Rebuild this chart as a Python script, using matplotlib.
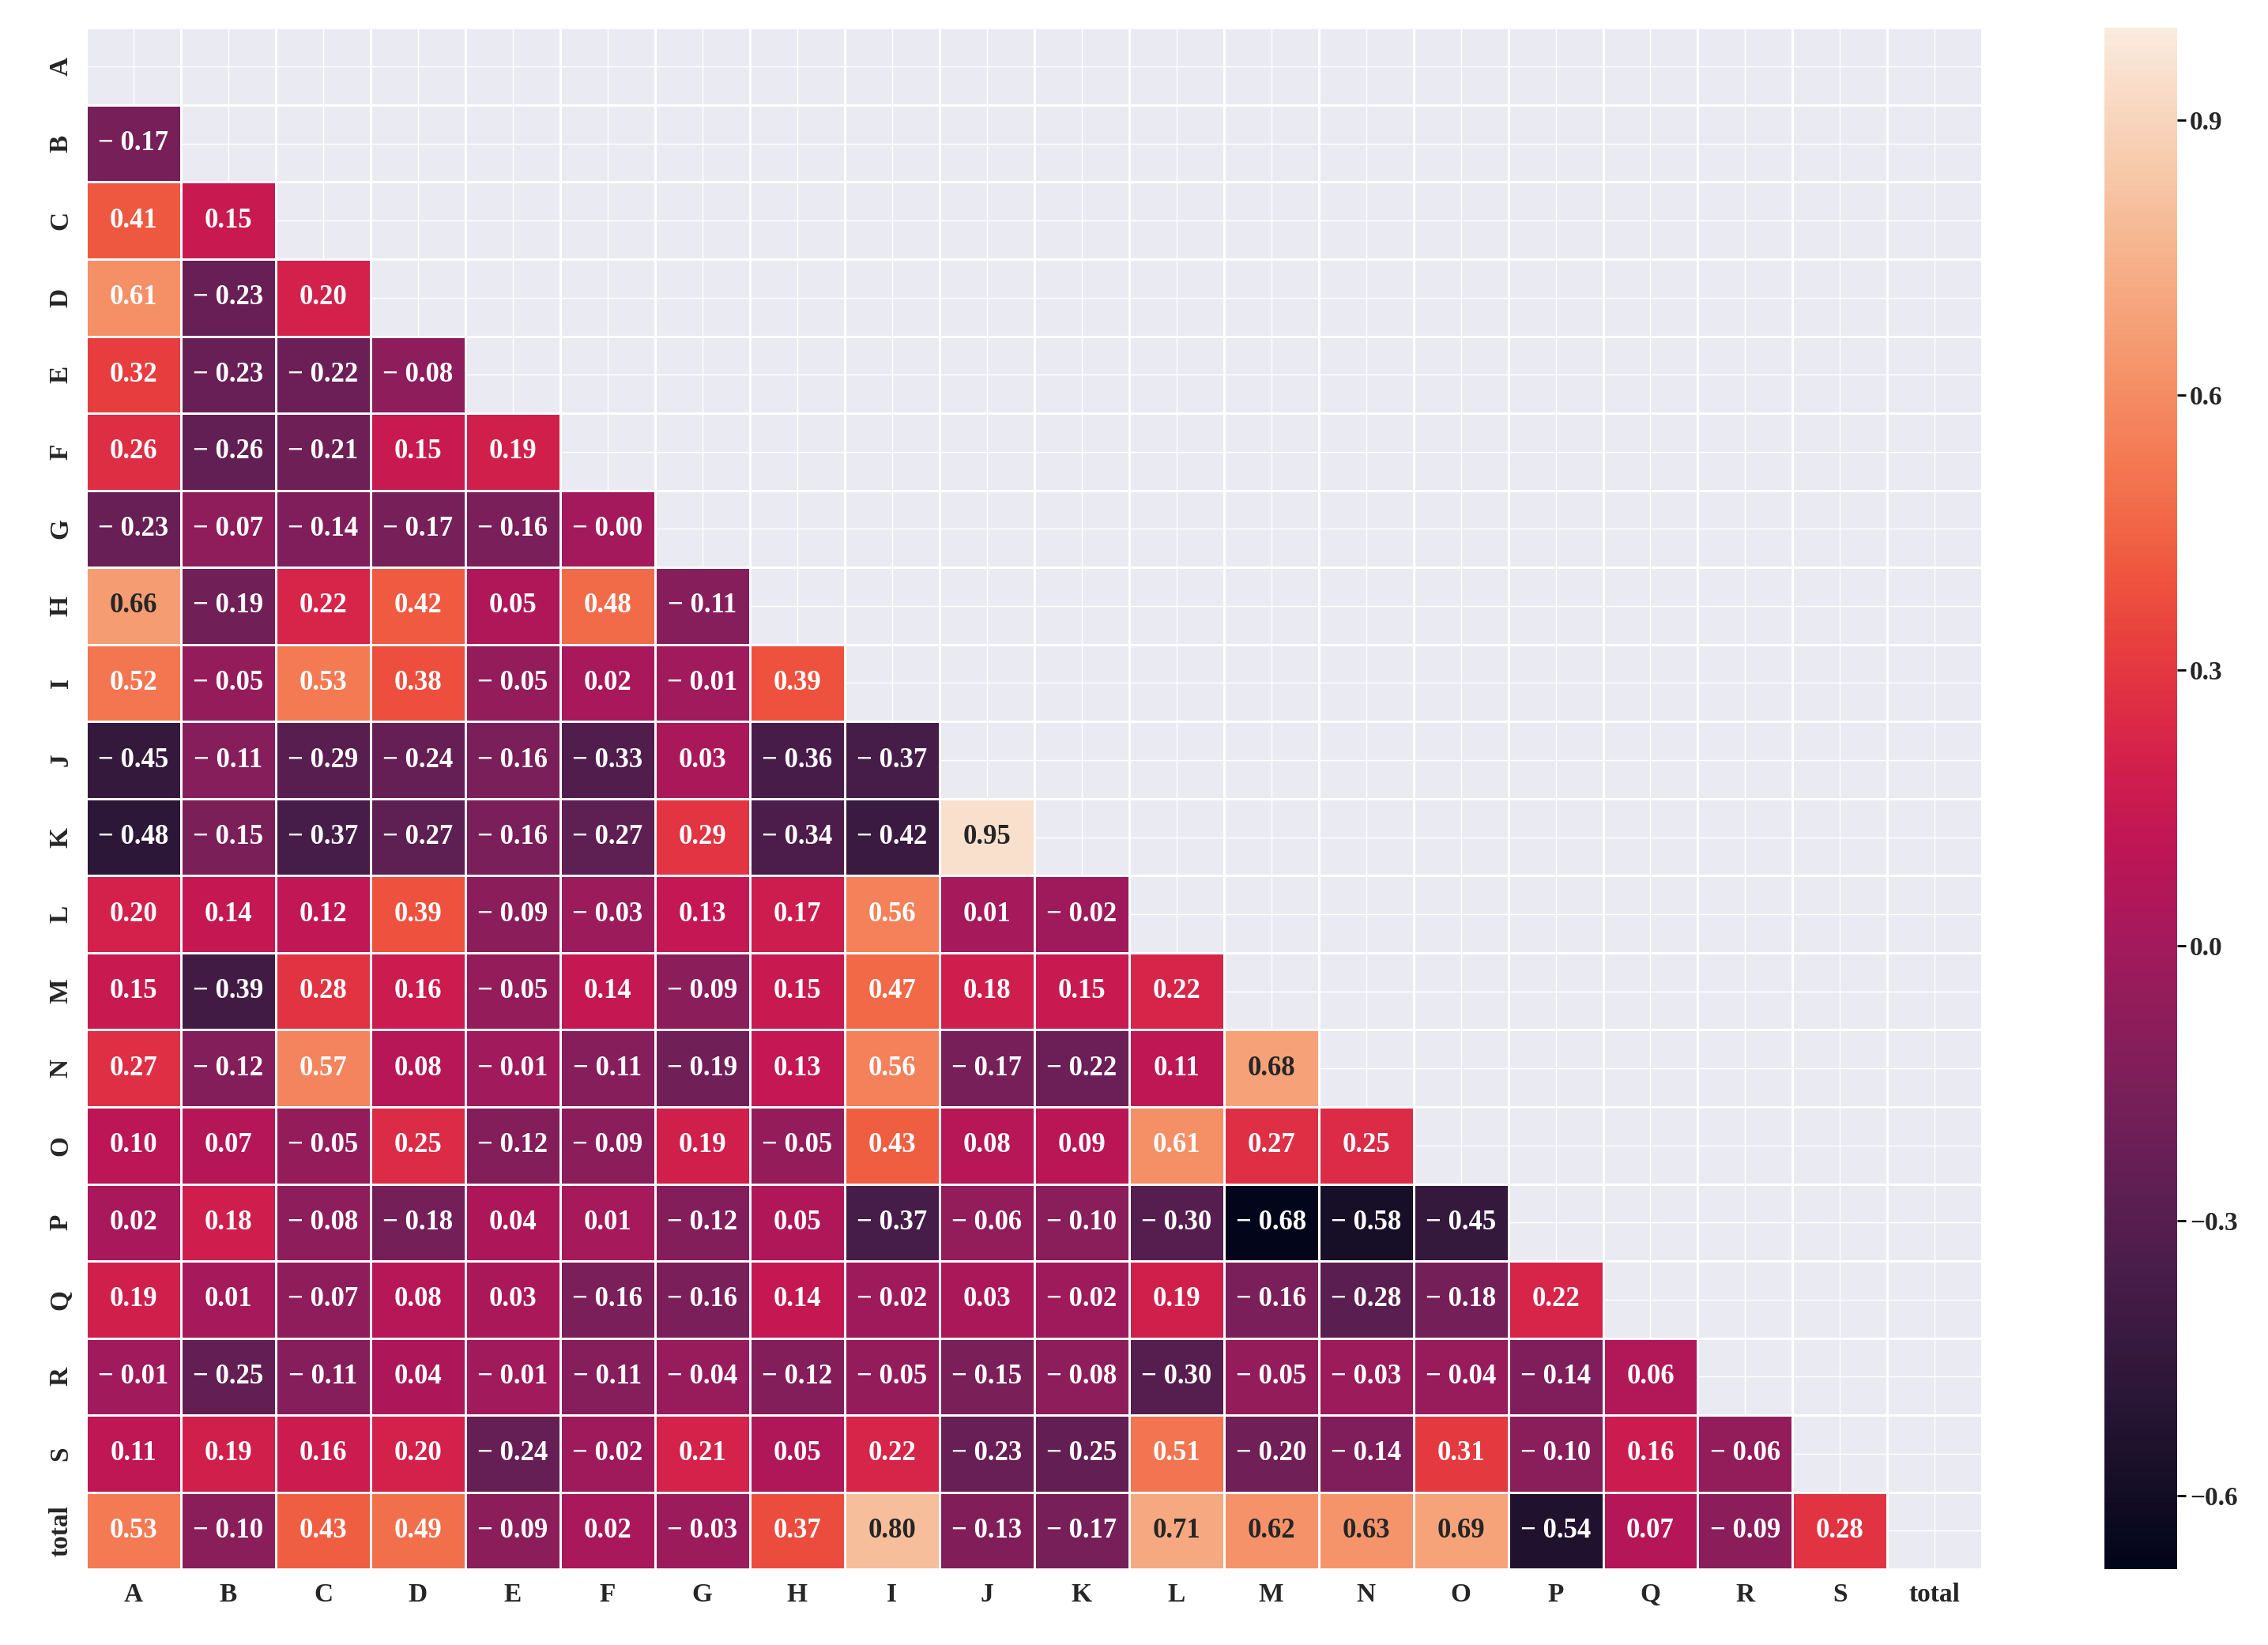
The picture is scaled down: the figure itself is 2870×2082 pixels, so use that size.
import numpy as np
import matplotlib
matplotlib.use("Agg")
import matplotlib.pyplot as plt
import seaborn as sns

labels = list("ABCDEFGHIJKLMNOPQRS") + ["total"]
rows = [
 [],
 [-0.17],
 [0.41, 0.15],
 [0.61, -0.23, 0.20],
 [0.32, -0.23, -0.22, -0.08],
 [0.26, -0.26, -0.21, 0.15, 0.19],
 [-0.23, -0.07, -0.14, -0.17, -0.16, -0.00],
 [0.66, -0.19, 0.22, 0.42, 0.05, 0.48, -0.11],
 [0.52, -0.05, 0.53, 0.38, -0.05, 0.02, -0.01, 0.39],
 [-0.45, -0.11, -0.29, -0.24, -0.16, -0.33, 0.03, -0.36, -0.37],
 [-0.48, -0.15, -0.37, -0.27, -0.16, -0.27, 0.29, -0.34, -0.42, 0.95],
 [0.20, 0.14, 0.12, 0.39, -0.09, -0.03, 0.13, 0.17, 0.56, 0.01, -0.02],
 [0.15, -0.39, 0.28, 0.16, -0.05, 0.14, -0.09, 0.15, 0.47, 0.18, 0.15, 0.22],
 [0.27, -0.12, 0.57, 0.08, -0.01, -0.11, -0.19, 0.13, 0.56, -0.17, -0.22, 0.11, 0.68],
 [0.10, 0.07, -0.05, 0.25, -0.12, -0.09, 0.19, -0.05, 0.43, 0.08, 0.09, 0.61, 0.27, 0.25],
 [0.02, 0.18, -0.08, -0.18, 0.04, 0.01, -0.12, 0.05, -0.37, -0.06, -0.10, -0.30, -0.68, -0.58, -0.45],
 [0.19, 0.01, -0.07, 0.08, 0.03, -0.16, -0.16, 0.14, -0.02, 0.03, -0.02, 0.19, -0.16, -0.28, -0.18, 0.22],
 [-0.01, -0.25, -0.11, 0.04, -0.01, -0.11, -0.04, -0.12, -0.05, -0.15, -0.08, -0.30, -0.05, -0.03, -0.04, -0.14, 0.06],
 [0.11, 0.19, 0.16, 0.20, -0.24, -0.02, 0.21, 0.05, 0.22, -0.23, -0.25, 0.51, -0.20, -0.14, 0.31, -0.10, 0.16, -0.06],
 [0.53, -0.10, 0.43, 0.49, -0.09, 0.02, -0.03, 0.37, 0.80, -0.13, -0.17, 0.71, 0.62, 0.63, 0.69, -0.54, 0.07, -0.09, 0.28],
]
n = len(labels)
M = np.full((n, n), np.nan)
for i, r in enumerate(rows):
    for j, v in enumerate(r):
        M[i, j] = v
mask = np.isnan(M)
annot = np.empty((n, n), dtype=object)
for i in range(n):
    for j in range(n):
        v = M[i, j]
        annot[i, j] = "" if np.isnan(v) else (("\u2212 %.2f" % abs(v)) if v < 0 or (v == 0 and np.signbit(v)) else "%.2f" % v)

sns.set_theme(style="darkgrid")
plt.rcParams["font.family"] = "Liberation Serif"
plt.rcParams["font.weight"] = "bold"
fig = plt.figure(figsize=(28.7, 20.82), dpi=100)
ax = fig.add_axes([0.038, 0.046, 0.836, 0.937])
cax = fig.add_axes([0.928, 0.046, 0.032, 0.937])
ax.set_facecolor("#EAEAF2")
sns.heatmap(M, mask=mask, cmap="rocket", vmin=-0.68, vmax=1.0, annot=annot, fmt="",
            annot_kws={"fontsize": 25, "fontweight": "bold"}, linewidths=2, linecolor="white",
            ax=ax, cbar_ax=cax, xticklabels=labels, yticklabels=labels)
for k in range(n + 1):
    ax.axhline(k, color="white", lw=2, zorder=0.5)
    ax.axvline(k, color="white", lw=2, zorder=0.5)
ax.tick_params(axis="both", labelsize=24, length=0, pad=12)
for t in ax.get_xticklabels():
    t.set_fontweight("bold"); t.set_rotation(0)
for t in ax.get_yticklabels():
    t.set_fontweight("bold"); t.set_rotation(90); t.set_va("center")
cax.set_yticks([-0.6, -0.3, 0.0, 0.3, 0.6, 0.9])
cax.set_yticklabels(["\u22120.6", "\u22120.3", "0.0", "0.3", "0.6", "0.9"])
cax.tick_params(labelsize=24, length=8, width=2, color="black")
for t in cax.get_yticklabels():
    t.set_fontweight("bold")
fig.savefig("out.png", dpi=100, facecolor="white")
